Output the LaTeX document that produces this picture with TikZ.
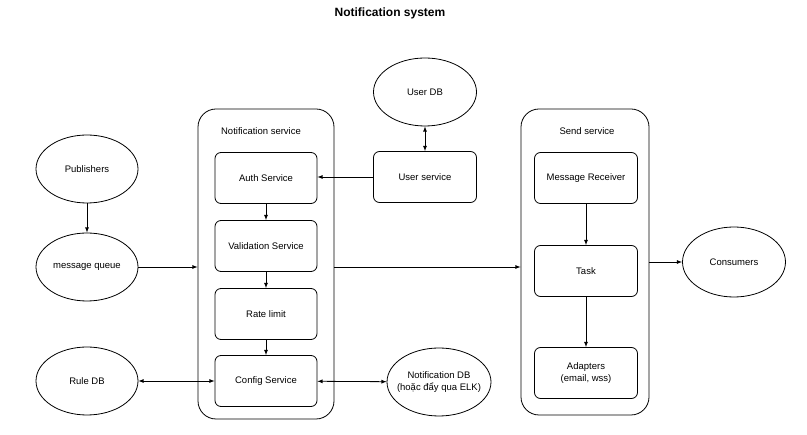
\documentclass[tikz,border=0pt]{standalone}
\usepackage{fontspec}
\setmainfont{Liberation Sans}
\usetikzlibrary{shapes.geometric}
\usetikzlibrary{positioning}

\begin{document}
\begin{tikzpicture}
    [
    x=1pt, y=-1pt,
    every node/.style={font=\fontsize{9.5}{11.5}\selectfont, line width=0.8pt},
    every path/.style={line width=0.8pt},
    frame/.style={draw, rounded corners=18pt},
    box/.style={draw, rounded corners=6pt, minimum width=102pt, minimum height=51pt, align=center},
    db/.style={ellipse, draw, minimum width=102pt, minimum height=68pt, inner sep=0pt, align=center},
    ]
    \useasboundingbox (0,0) rectangle (807,435);
    \node (title) at (390,13) {\fontsize{12}{14}\selectfont\bfseries Notification system};

    % containers
    \node (nsvc) at (266,264) [frame, minimum width=136pt, minimum height=310pt] {};
    \node (ssvc) at (585,262) [frame, minimum width=128pt, minimum height=306pt] {};
    \node (nsvclbl) at (261,131) {Notification service};
    \node (ssvclbl) at (587,131) {Send service};

    % notification service
    \node (auth) at (266,178) [box] {Auth Service};
    \node (valid) at (266,246) [box] {Validation Service};
    \node (rate) at (266,314) [box] {Rate limit};
    \node (config) at (266,381) [box] {Config Service};
    \draw [-latex] (auth) to (valid);
    \draw [-latex] (valid) to (rate);
    \draw [-latex] (rate) to (config);

    % send service
    \node (recv) at (586,178) [box, minimum width=103pt] {Message Receiver};
    \node (task) at (586,271) [box, minimum width=103pt] {Task};
    \node (adapt) at (586,373) [box, minimum width=103pt] {Adapters\\(email, wss)};
    \draw [-latex] (recv) to (task);
    \draw [-latex] (task) to (adapt);

    % users
    \node (userdb) at (425,92) [db, minimum width=103pt] {User DB};
    \node (usersvc) at (425,177) [box, minimum width=103pt] {User service};
    \draw [latex-latex] (userdb) to (usersvc);
    \draw [-latex] (usersvc) to (auth.east |- usersvc);

    % left side
    \node (pub) at (87,169) [db] {Publishers};
    \node (mq) at (87,267) [db] {message queue};
    \node (ruledb) at (87,381) [db] {Rule DB};
    \draw [-latex] (pub) to (mq);
    \draw [-latex] (mq) to (mq -| nsvc.west);
    \draw [latex-latex] (ruledb) to (config);

    % right side
    \node (notidb) at (439,382) [db, minimum width=104pt, minimum height=68pt, inner sep=-7pt] {Notification DB\\(hoặc đẩy qua ELK)};
    \node (cons) at (734,262) [db, minimum width=103pt, minimum height=70pt] {Consumers};
    \draw [latex-latex] (config) to (notidb);
    \draw [-latex] (nsvc.east |- mq) to (ssvc.west |- mq);
    \draw [-latex] (ssvc.east |- cons) to (cons);
  \end{tikzpicture}
\end{document}
